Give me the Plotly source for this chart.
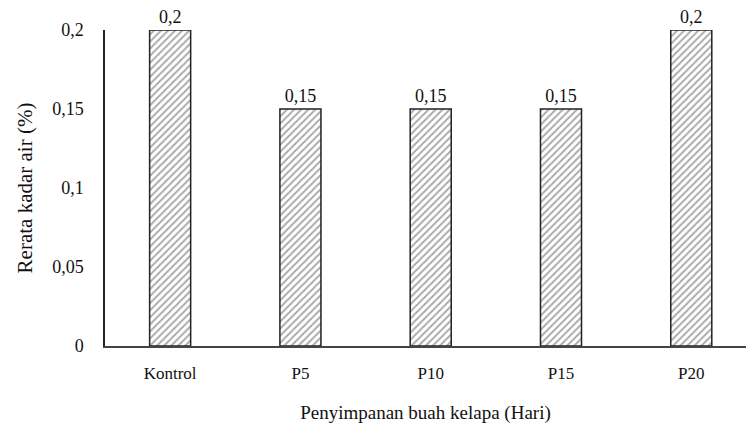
import plotly.graph_objects as go

categories = ["Kontrol", "P5", "P10", "P15", "P20"]
values = [0.2, 0.15, 0.15, 0.15, 0.2]
labels = ["0,2", "0,15", "0,15", "0,15", "0,2"]
y_ticks = [0, 0.05, 0.1, 0.15, 0.2]
y_tick_text = ["0", "0,05", "0,1", "0,15", "0,2"]

font = "'Liberation Serif', 'Times New Roman', 'DejaVu Serif', serif"

fig = go.Figure(go.Bar(
    x=categories, y=values, text=labels, textposition="outside",
    textfont=dict(family=font, size=18, color="#111"),
    cliponaxis=False,
    width=0.315,
    marker=dict(color="white", line=dict(color="#222", width=1.5),
                pattern=dict(shape="/", fgcolor="#555", bgcolor="white", size=5, solidity=0.4)),
))

fig.update_layout(
    width=746, height=424,
    margin=dict(l=105, r=0, t=30, b=78),
    plot_bgcolor="white", paper_bgcolor="white",
    separators=",.",
    showlegend=False,
    font=dict(family=font, color="#111"),
)
fig.update_xaxes(
    range=[-0.5, 4.42], showline=True, linecolor="#444", linewidth=1.5,
    ticks="", tickfont=dict(family=font, size=17), ticklabelstandoff=11,
    title=dict(text="Penyimpanan buah kelapa (Hari)", font=dict(family=font, size=19), standoff=24),
)
fig.update_yaxes(
    range=[0, 0.2], showline=True, linecolor="#222", linewidth=1.5, showgrid=False,
    zeroline=False, ticks="", tickvals=y_ticks, ticktext=y_tick_text,
    tickfont=dict(family=font, size=18), ticklabelstandoff=16,
    title=dict(text="Rerata kadar air (%)", font=dict(family=font, size=21), standoff=14),
)

fig.write_html("out.html", config={"displayModeBar": False},
               post_script="document.body.style.margin='0';document.body.style.overflow='hidden';")
